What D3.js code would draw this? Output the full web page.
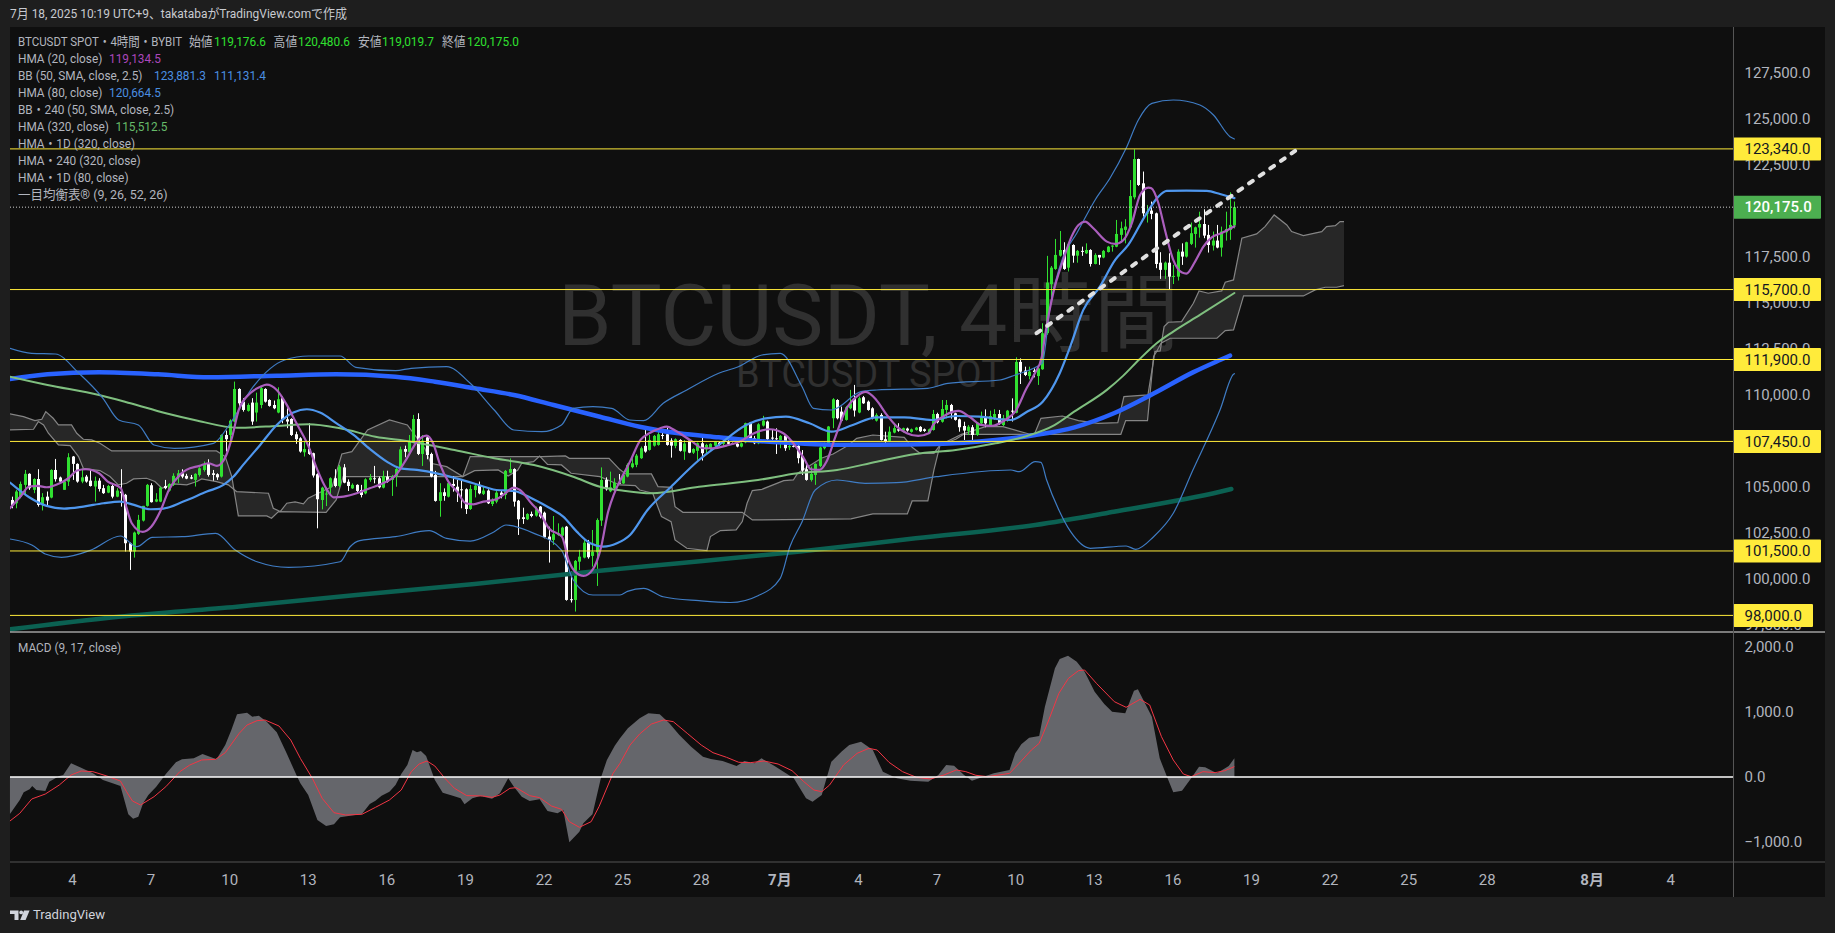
<!DOCTYPE html>
<html lang="ja">
<head>
<meta charset="utf-8">
<title>BTCUSDT SPOT 4時間</title>
<script src="https://cdn.jsdelivr.net/npm/d3@7/dist/d3.min.js"></script>
<style>
  html, body { margin: 0; padding: 0; background: #1e1e1e; overflow: hidden; }
  svg { display: block; }
  text { font-family: Roboto, "Noto Sans CJK JP", sans-serif; }
</style>
</head>
<body>
<svg id="chart" width="1835" height="933"></svg>
<script>
// open, high, low, close of each 4h bar
const candles = [
  [104270,104450,103820,104000],[104090,104820,103820,104730],[104450,105270,104360,105140],[105090,105900,104550,105690],
  [105690,105720,104820,104910],[104820,105450,104640,105410],[105410,105940,103910,104000],[104000,104640,103700,104420],
  [104450,104730,103950,104240],[104400,105940,104360,105900],[105900,106500,105270,105400],[105490,105540,105180,105270],
  [104820,105360,104820,105270],[105270,106810,105030,106590],[106630,106660,105360,106230],[106230,106260,105210,105270],
  [105270,105990,105180,105500],[105540,105630,105210,105270],[105320,105900,105000,105030],[105000,105540,104180,105310],
  [105320,105450,104730,104870],[104910,105090,104600,104640],[104670,105090,104640,105030],[105030,105090,104360,104450],
  [104450,104910,104420,104780],[104730,105940,103910,104640],[104550,104600,101470,101920],[101920,101960,100470,101470],
  [101470,102550,101140,102500],[102430,103460,102370,103190],[103150,103950,103100,103950],[103950,105140,103910,105090],
  [105070,105180,104130,104150],[104180,104640,104150,104310],[104180,105000,104150,104940],[105030,105360,104850,104910],
  [104780,105180,104730,105140],[105090,105720,105030,105580],[105500,105900,105180,105720],[105720,105940,105450,105540],
  [105580,105690,105400,105430],[105500,105630,105400,105430],[105360,105720,105000,105690],[105630,106050,105540,105990],
  [105900,106360,105810,106230],[106260,106480,105540,105630],[105720,105900,105320,105630],[105670,105720,105360,105500],
  [105540,107840,105490,107800],[107800,108040,106900,107570],[107800,108650,107530,108580],[108530,110700,108490,110300],
  [110300,110340,109340,109520],[109610,109800,109070,109160],[109110,109520,109070,109430],[109560,109800,108350,108530],
  [109020,110100,108530,109560],[109430,110430,109250,110340],[110300,110340,109560,109610],[109700,109740,109340,109380],
  [109430,109670,109200,109250],[109020,110390,108980,109740],[109800,109890,108440,108650],[108650,109250,108170,108530],
  [108670,108710,107750,107800],[107840,107980,107320,107570],[107620,107680,106840,106900],[106860,107440,106630,107040],
  [107040,108440,106720,106770],[106810,106840,105490,105600],[105670,105720,102730,104310],[104270,104990,103760,104940],
  [104600,104960,103940,104620],[104960,105500,104540,105450],[105450,105940,104960,105030],[105030,106170,104960,106080],
  [106040,106220,105180,105210],[105260,105390,104760,105030],[104900,105170,104870,105090],[105090,105120,104700,104760],
  [104810,105090,104410,104540],[104630,105450,104580,105390],[105360,105680,105260,105480],[105450,106120,105175,105410],
  [105450,105540,104900,104960],[104940,105860,104900,105570],[105540,105860,105210,105260],[105360,105630,104490,105570],
  [105570,106010,104990,105950],[105950,107170,105900,107020],[107040,107220,106590,106890],[106860,107800,106800,107440],
  [107400,108890,107350,108670],[108670,108980,106710,106770],[106770,107800,106120,107490],[107670,107750,106480,106710],
  [106770,106840,105500,105540],[105630,105850,104180,104220],[104220,105180,103360,104690],[104690,104900,104230,104490],
  [104450,105270,104410,105180],[105140,105570,104720,105030],[104990,105360,104160,104720],[104850,105360,103820,104810],
  [104850,104900,103510,103780],[103780,105090,103730,104870],[104810,105180,104410,105050],[105090,105270,104580,104630],
  [104600,104990,104540,104780],[104780,104850,104050,104090],[104050,104360,103940,104270],[104180,104810,104090,104670],
  [104670,104810,104360,104540],[104540,105900,104310,105850],[105750,106530,105720,105950],[105950,105990,103910,104180],
  [104230,104270,102370,103220],[103330,103850,102970,103240],[103220,103550,103180,103510],[103510,103640,103330,103400],
  [103420,103910,103360,103760],[103910,103940,103270,103360],[103580,103640,102190,102240],[102280,102820,100870,102100],
  [102100,103400,101830,102410],[102370,103000,102320,102460],[102330,102820,102280,102770],[102820,102860,98800,98840],
  [98880,100380,98700,98840],[98840,101010,98210,100960],[100920,101560,100470,101190],[101140,102100,101100,101950],
  [101950,102100,101080,101160],[101230,102640,100650,101460],[101430,103270,99600,103180],[103150,106040,102860,105360],
  [105360,105500,104780,104850],[104740,105810,104690,104960],[104920,105450,104670,105210],[105210,105680,105140,105170],
  [105170,105810,105140,105630],[105540,106260,105500,106180],[106050,106540,105990,106260],[106180,106770,106050,106680],
  [106540,107170,106500,107080],[107210,108110,106840,106900],[106990,107800,106950,107530],[107220,107800,107170,107750],
  [107260,108080,107220,107840],[107800,108080,107570,107750],[107840,108200,107220,107260],[107500,107620,106570,107220],
  [107210,107620,107080,107570],[107530,107570,106900,106940],[106900,107530,106450,107340],[107500,107530,106810,106840],
  [106840,107080,106770,107040],[106940,107390,106450,107350],[107350,107750,106410,106810],[107020,107320,106720,107260],
  [107080,107350,106990,107320],[107220,107460,107190,107420],[107390,107420,107220,107260],[107320,107570,107170,107480],
  [107410,107530,107220,107320],[107350,107390,107260,107300],[107320,107530,107130,107170],[107170,107400,107130,107350],
  [107400,108470,107350,108440],[108470,108510,107570,107620],[107620,107750,107300,107350],[107350,108440,107300,108380],
  [108310,108840,108260,108580],[108530,108580,107500,107570],[107660,108075,107350,107600],[107620,108165,106770,107570],
  [107530,107800,107080,107750],[107770,107800,106940,107080],[107130,107260,106990,107210],[107210,107260,107130,107170],
  [107210,107260,106260,106540],[106660,106980,105630,105870],[105940,106180,105320,105360],[105360,106080,105270,105690],
  [105630,106260,105090,106230],[106120,107170,106050,107120],[107080,107390,107020,107350],[107260,108290,107220,108260],
  [108710,109800,108170,109740],[109700,109740,108650,108710],[109070,109340,108530,108580],[108620,109380,108580,109310],
  [109250,110250,109200,109520],[109800,110520,108800,109130],[109020,109890,108980,109800],[109850,109920,109490,109520],
  [109610,109670,109120,109160],[109250,109310,108650,108710],[108580,108980,108530,108890],[108890,108980,107500,107530],
  [107570,107980,107260,107440],[107480,108260,107440,107980],[107930,108440,107890,108170],[108110,108440,107980,108040],
  [108040,108200,107930,108170],[108150,108200,107980,108040],[107970,108150,107930,108110],[108080,108240,108040,108200],
  [108240,108280,107960,108000],[108110,108150,107970,108020],[107890,108150,107850,108110],[108070,109160,108040,108940],
  [108940,109010,108430,108490],[108520,109700,108470,109210],[109160,109700,108710,109430],[109430,109490,108690,108980],
  [108980,109010,108580,108620],[108650,108690,107980,108220],[108290,108520,107530,108040],[108020,108340,107800,108250],
  [108220,108340,107490,107800],[107800,108490,107750,108470],[108430,109070,108290,108760],[108760,109190,108220,108430],
  [108310,109120,108250,108830],[108710,109200,108620,108940],[108940,109160,108340,108430],[108340,108890,108290,108710],
  [108620,109160,108520,109120],[109120,109790,108530,109070],[109010,112020,108980,111770],[111770,111960,110570,111240],
  [111300,111510,111000,111060],[111000,111510,110820,111240],[111300,111420,110930,111220],[111000,111420,110520,111420],
  [111370,113870,111340,113330],[113330,117530,113240,116080],[115990,116980,115260,116890],[116820,118450,116770,117580],
  [117540,118880,117490,117850],[117850,118270,116770,116820],[116890,118180,116680,118160],[118120,118160,117160,117540],
  [117540,117850,117160,117800],[117800,118030,117530,117760],[117670,118210,117630,117850],[117850,117890,116950,117090],
  [117090,117670,117070,117580],[117580,117580,117040,117440],[117440,117850,117400,117800],[117740,118070,117710,118030],
  [118030,118110,117760,118090],[118030,119480,118000,118720],[118670,119390,118250,119030],[118940,119520,118210,119120],
  [119080,121650,119030,120780],[120710,123320,120600,122790],[122790,122810,121330,121380],[121470,122110,119660,119840],
  [119840,120295,119340,119880],[119990,120480,119520,119810],[119840,119880,116860,117090],[117160,117730,116280,116770],
  [116770,117220,116280,117160],[117160,117670,115730,116400],[116400,117040,116000,116440],[116400,117890,116190,117760],
  [117760,118210,117040,117490],[117490,118300,117440,118270],[118180,119340,118120,118760],[118720,119120,117980,119080],
  [119070,119930,118520,119260],[119260,120060,118490,118630],[118670,119210,117710,118120],[118090,118850,117820,118360],
  [118360,119210,117940,117980],[117980,119120,117490,118850],[118810,119930,118360,118990],[118940,120980,118400,119210],
  [119176.6,120480.6,119019.7,120175]
];

// indicator lines: [bar index, price]
const hma20 = [[-0.4,103820],[2,104455],[4,105000],[6,105034],[8,104960],[11,105180],[13,105450],[15,105867],[17,105940],[20,105722],[22,105270],[25,104907],[26,104093],[27.5,103007],[30,102536],[32,102826],[34,103640],[36,104817],[38.5,105632],[40,105903],[43,106120],[45,106265],[47,106120],[49,106627],[50.5,107713],[52,109161],[54.6,110066],[57,110428],[58.4,110537],[60.7,110247],[63,109433],[65,108528],[68,107170],[70,105903],[72,104904],[73.7,104415],[76,104451],[79,104632],[82,104904],[85,105175],[88,105628],[90.5,106532],[92.8,107437],[95,107763],[96.5,107347],[98,106261],[100,105265],[102,104722],[104,104089],[105.7,104035],[108,104180],[111,104306],[113,104632],[115,104940],[116.4,104813],[119,104089],[121,103546],[123,102732],[126,102279],[127.5,101012],[129,100378],[131,100143],[133,100469],[135,101736],[136.5,103546],[138,104632],[140,105628],[141.6,106355],[144,107532],[146,107894],[148.5,108165],[150,108256],[152.3,107985],[155.3,107532],[158.4,107080],[160.7,107080],[163.7,107224],[166.8,107442],[170,107894],[173.6,108111],[176.7,107894],[179,107351],[181.4,106537],[183,105939],[185,105903],[186.6,106355],[188.5,107622],[191,109161],[193.5,109885],[195.6,110138],[198,109704],[200.4,108890],[202.7,108256],[205,107894],[207.6,107749],[210,107894],[211,108345],[213.3,108797],[215.6,109069],[216.8,109105],[219.5,108761],[222,108345],[224.4,108290],[227.5,108616],[229.8,109069],[232.4,110336],[234.3,111150],[235.9,112055],[236.6,113146],[238.5,115499],[240.8,117309],[242.7,118576],[244.3,119210],[245.8,119390],[247.7,119028],[250.8,118305],[252.7,118178],[254.6,118395],[256.5,119300],[258.4,120838],[260.3,121237],[261,121200],[262.6,120386],[264.1,118938],[266,117309],[268,116621],[269,116567],[271,117218],[272.9,118033],[274.8,118540],[277,118757],[280,119134.5]];
const hma80 = [[-0.4,105215],[4,104419],[8,103948],[12,103803],[16.4,103912],[21,104093],[24.8,104183],[28,104002],[31.7,103767],[34.7,103803],[39.3,104183],[44.7,104726],[48.5,105089],[50.8,105541],[53,106175],[56.9,107260],[60.7,108347],[64.5,109016],[67.6,109197],[70.6,109016],[74.4,108433],[78.3,107800],[82,107040],[85.9,106351],[89,105990],[92.8,105900],[97.3,105718],[101,105500],[105.7,105175],[111,104813],[115,104759],[119.5,104306],[123.3,103817],[126.3,103365],[129.4,102550],[132.5,101917],[135.5,101736],[138.6,101917],[141.6,102370],[145.6,103725],[151,104990],[157.4,106440],[161.9,107255],[168.2,108342],[172.7,108706],[177.3,108793],[182.7,108434],[187.7,107978],[192.6,108342],[198.1,108760],[204.4,108760],[210.8,108614],[216.2,108831],[221.6,108793],[228.8,108614],[232.5,109065],[236.1,109607],[240,111155],[242.4,112603],[245.4,114594],[249.2,115861],[252.7,117309],[255.7,118124],[259.9,119843],[262.6,120748],[264.5,121056],[269,121074],[273.7,121056],[276.7,120893],[280,120664.5]];
const hma320 = [[-0.4,110966],[8.2,110515],[20,109971],[27.2,109520],[35.3,108978],[42.6,108576],[51.6,108195],[60.7,108287],[67.9,108379],[75.2,108162],[83.3,107706],[91.5,107434],[101.4,106984],[110.5,106533],[119.6,106169],[128.6,105533],[134.7,104990],[140.1,104773],[146.5,104631],[157.4,104990],[170.9,105354],[180,105718],[189,105897],[198.1,106348],[207,106767],[216.2,106984],[225.3,107348],[232.5,107745],[238.8,108342],[243.3,109065],[250.8,110250],[254.5,111010],[258.2,111900],[262.2,112784],[266,113418],[272.1,114322],[280,115512.5]];
const hma1d80 = [[-0.4,110840],[8.2,111095],[20,111205],[33.5,111095],[45.3,110933],[60.7,111020],[74.3,111095],[87.9,110966],[96.9,110694],[106,110334],[115,109971],[124.1,109428],[134.7,108793],[143.8,108250],[152.8,107890],[161.9,107674],[170.9,107473],[180,107348],[189,107272],[198.1,107272],[211.7,107310],[225.3,107527],[234.4,107798],[243.4,108217],[252.4,108978],[261.5,110050],[270.5,111200],[276.7,111873],[279,112113]];
const hma1d320 = [[-0.4,97245],[24.5,97930],[51.6,98473],[78.9,99107],[106,99705],[134.7,100427],[152.8,100830],[180,101460],[207,102187],[234.4,102910],[252.4,103632],[276.7,104719],[279.3,104865]];
const bbUpper = [[-0.4,112508],[4.6,112236],[10,112198],[15.4,111150],[20.9,109792],[24.5,108613],[29,108342],[32.6,107255],[37.2,107076],[46.2,107348],[49.8,108342],[55.3,110422],[62.5,111873],[68,112090],[75.2,112090],[78.8,111476],[87.9,111292],[91.5,111422],[99.6,111509],[105,110607],[110.5,109157],[115,108070],[121.4,107978],[125.9,108342],[128.6,109248],[133.1,109336],[137.4,109248],[141.5,108613],[144.7,108576],[149.2,109520],[154.6,110243],[161.9,111150],[166.4,111509],[171.8,112145],[176,112236],[181,110422],[183.6,109248],[187.7,109157],[194.5,110151],[198.1,110243],[209.8,110335],[214.4,110607],[226.3,110786],[229.8,111058],[234.7,111509],[236,111698],[237.8,114775],[240.8,117490],[243.9,118757],[248.1,120567],[251.5,121743],[255.2,123373],[258,124911],[261.1,125816],[266,125997],[272.1,125726],[275.2,125183],[279,124006],[280,123881.3]];
const bbLower = [[-0.4,102150],[4.6,101823],[7.7,101335],[11.4,101155],[18.2,101552],[24.9,102312],[28.6,101731],[32.2,102242],[39,102275],[46.7,102458],[51.2,101551],[56.2,100916],[63.4,100612],[75.2,100916],[77.5,101731],[79.7,102060],[87.9,102275],[95.6,102600],[99.6,102187],[105,102040],[110.5,102546],[113.2,102910],[119.6,102458],[125.9,101551],[128.6,99923],[133.1,99107],[139.3,99107],[141,99305],[144.7,99472],[149.2,99015],[157.4,98798],[164.6,98700],[170.9,99070],[176,100014],[178.2,101731],[181,103090],[184,104810],[189,105354],[195.4,105175],[202.6,105208],[211.7,105533],[228.8,105897],[230.7,105805],[234.4,106348],[235.7,106316],[237,105354],[239.8,103725],[242.5,102546],[247,101645],[255.2,101770],[257.4,101590],[261.5,102275],[266,103546],[270.5,105897],[276.7,109157],[279.8,111100],[280,111131.4]];
const cloudSpanA = [[-0.4,108075],[5,108111],[6.1,108528],[7.3,108346],[8.4,107894],[10.7,107260],[13.4,107224],[15.3,106627],[16.4,105993],[20.2,105867],[22.5,105541],[24.4,105089],[26.3,105179],[27.9,105414],[30.9,105450],[32.8,105270],[34.4,104907],[37,105143],[40.1,105089],[42.4,105270],[43.5,105414],[46.9,105270],[49.6,105089],[51.5,104726],[58.8,104636],[59.9,103822],[61.5,103640],[63,104093],[64.9,104165],[66.8,104057],[67.9,104365],[70.2,104636],[73.4,105000],[75.6,106769],[77.9,106896],[81.5,108072],[86.5,108615],[90.6,108344],[94.6,107076],[96,106262],[99.6,106081],[103.3,105538],[105,106624],[121.4,106624],[126.8,106660],[127.7,106534],[136.8,106534],[139.2,105936],[140.6,105683],[146.5,105683],[148,104995],[151.2,104959],[151.9,103909],[153.7,103601],[167.3,103601],[169.6,103185],[192.2,103239],[197.2,103511],[205.1,103511],[206.2,104217],[209.8,104217],[211.2,105900],[212.6,107258],[216.2,107565],[218,107837],[254,107837],[255.1,108579],[260.1,108579],[261.5,112060],[262.2,112332],[263.2,112784],[265.3,113055],[276,113055],[277.9,113472],[279.8,113508],[282.1,115354],[295.8,115354],[298.5,115680],[300.8,115825],[303.4,115825],[305.1,115915]];
const cloudSpanB = [[-0.4,108944],[2.7,108799],[5.3,108582],[6.9,108654],[7.8,109070],[9.5,108708],[10.7,108346],[13.7,108346],[14.9,107894],[16.4,107568],[18.3,107532],[20.2,107351],[22.9,106935],[46.9,106935],[48.9,106627],[50.4,105541],[51.9,103405],[58.4,103405],[59.5,103279],[61.1,103640],[72,103601],[74.3,104271],[75.9,105538],[103.3,105538],[106,105864],[111.4,105900],[113.7,105574],[115.9,105900],[116.8,106262],[119.5,106353],[120.9,106660],[122.7,106208],[125.9,106172],[128.1,105719],[134.7,105538],[139.2,105086],[142.8,105049],[143.8,104814],[146.8,104633],[148.8,103366],[151,103095],[151.9,102099],[154.6,101647],[159.2,101520],[160,102280],[162.3,102606],[165.9,102642],[167.3,103095],[168.4,104090],[169.6,104778],[171.8,104850],[176.8,105321],[179,105357],[180,105719],[185.4,106534],[188.1,106769],[191.7,107258],[193.5,107620],[197.2,107800],[204.4,107674],[206.2,107131],[208,106805],[211.2,106805],[212.6,107258],[217.5,107837],[223,108253],[227,108253],[233,107855],[234.3,107891],[235.7,108706],[240.6,108832],[244.3,108579],[248.8,108434],[253.3,108470],[254.7,109882],[260.2,109979],[261.8,112332],[263,112368],[263.9,113689],[264.9,113924],[267.9,113960],[270.6,114956],[271.9,115626],[274,115499],[277.1,115626],[277.9,116096],[279.8,116223],[281.7,118486],[285.1,118721],[287,119119],[289.1,119752],[292,119209],[293.1,118848],[295.8,118630],[300,118848],[301.1,119119],[303.1,119173],[304.2,119390],[305.1,119390]];
const trendLine = [[234.7,113327],[293.9,123228]];

// MACD pane: [bar index, value]
const macdLine = [[-0.4,-569],[1.85,-354],[2.75,-236],[4.1,-190],[4.7,-138],[5.65,-200],[7.7,-215],[8.6,-72],[10.9,15],[11.8,31],[13.6,210],[15.9,144],[18.6,56],[20.9,-46],[23.1,-97],[24.9,-138],[26.7,-574],[27.8,-641],[29,-610],[30.1,-405],[31.3,-277],[33.1,-149],[35.3,46],[37.6,226],[39,272],[41.7,287],[43.7,354],[46.9,272],[48.9,492],[50.3,723],[51.6,964],[53.9,990],[55.1,928],[56.6,944],[58.4,851],[60.7,687],[62.96,364],[65.2,31],[66.1,-97],[67.9,-277],[70,-662],[72,-754],[73.8,-728],[75.2,-620],[78.3,-590],[80.2,-569],[82,-415],[83.3,-364],[84.7,-287],[86.5,-226],[87.9,-123],[89.2,46],[90.6,185],[91.8,415],[92.8,379],[93.7,400],[94.9,323],[96.9,-46],[98.7,-241],[101,-287],[102.8,-328],[103.7,-420],[105.5,-328],[107.3,-292],[110,-333],[111.8,-251],[113.7,-20],[115,-149],[116.8,-303],[118.6,-369],[120.9,-344],[122.7,-523],[125,-559],[126.3,-508],[127.7,-1005],[130,-841],[130.9,-713],[133,-574],[135,5],[136.3,262],[138.1,482],[139.3,595],[141.1,749],[143.8,903],[145.8,979],[148.4,964],[150.6,826],[152.9,646],[155.6,467],[158.3,313],[160.1,277],[162.8,246],[166,169],[167.8,246],[170.1,210],[171.7,287],[174.6,174],[179.1,-20],[181.9,-328],[183.4,-379],[185.5,-277],[187.7,236],[190,390],[191.8,492],[194.5,544],[197.2,415],[199.5,82],[202.7,-20],[205.8,-56],[209.9,-72],[212.2,31],[214,185],[215.8,174],[218.1,31],[219.9,-56],[223,15],[224.9,56],[228.5,108],[229.8,364],[231.2,503],[233,605],[235.3,631],[236.6,1082],[238.9,1672],[240,1815],[241.9,1867],[243.9,1774],[245.7,1620],[248,1313],[250.2,1123],[252,1005],[255,979],[257,1328],[257.9,1349],[261.1,928],[262.9,287],[264.7,-20],[266,-236],[268,-210],[270.1,-20],[271.9,159],[273.3,149],[276,56],[278.7,169],[280,287]];
const macdSignal = [[-0.4,-677],[1.85,-559],[4.6,-338],[7.7,-262],[10.9,-123],[13.6,31],[15.9,92],[18.6,82],[21.8,15],[24.9,-62],[26.3,-226],[27.65,-369],[29.5,-431],[32.6,-303],[35.3,-149],[38.5,82],[40.8,185],[43.5,262],[46.7,272],[48.9,374],[52.1,672],[53.9,800],[56.2,867],[58,877],[61.2,785],[63.9,569],[66.1,287],[68.85,-20],[71.1,-328],[73.8,-549],[76.5,-585],[80.2,-574],[83.3,-467],[86.5,-354],[89.2,-200],[91.5,82],[93.3,200],[95.1,246],[96.9,169],[99.2,-20],[101.4,-174],[104.2,-287],[107.8,-292],[110,-313],[111.8,-277],[114.1,-174],[115.5,-164],[118.6,-287],[120.9,-318],[123.6,-446],[125.9,-497],[127.7,-687],[130,-774],[132.7,-687],[134.5,-456],[137.7,56],[139.3,210],[141.6,492],[143.8,662],[146.5,815],[149.3,877],[151.5,851],[154.7,672],[157.9,492],[160.6,374],[163.7,303],[166.5,226],[169.2,221],[172.3,246],[175.5,200],[178.7,97],[181.4,-72],[183.7,-200],[185.5,-226],[187.3,-123],[190.5,185],[193.6,364],[196.3,441],[198.2,415],[200.9,226],[204,82],[207.2,-5],[210.4,-31],[213.5,31],[216.3,108],[218.5,82],[220.8,26],[223.5,5],[228.5,56],[230.7,210],[233.5,415],[235.3,518],[237.5,877],[239.8,1287],[242,1518],[244.3,1636],[245.7,1646],[248.4,1441],[252.5,1159],[255.2,1072],[258.4,1195],[260.6,1108],[263.3,620],[266,262],[268.3,46],[270.1,5],[272.8,82],[275.6,67],[277.8,97],[280,159]];

// axis ticks and horizontal levels
const priceTicks = [127500,125000,122500,120000,117500,115000,112500,110000,107500,105000,102500,100000,97500];
const macdTicks = [2000,1000,0,-1000];
const levels = [123340,115700,111900,107450,101500,98000];
const lastClose = 120175;
const dateBars = [13.8,31.8,49.8,67.8,85.8,103.8,121.8,139.8,157.8,175.8,193.8,211.8,229.8,247.8,265.8,283.8,301.8,319.8,337.8,361.8,379.8];
const dateLabels = ['4','7','10','13','16','19','22','25','28','7月','4','7','10','13','16','19','22','25','28','8月','4'];

const legendRows = [
  { y: 59, label: 'HMA (20, close)', values: [[109, '119,134.5', '#ab47bc']] },
  { y: 76, label: 'BB (50, SMA, close, 2.5)', values: [[154, '123,881.3', '#4a8ee0'], [214, '111,131.4', '#4a8ee0']] },
  { y: 93, label: 'HMA (80, close)', values: [[109, '120,664.5', '#4a8ee0']] },
  { y: 110, label: 'BB・240 (50, SMA, close, 2.5)', values: [] },
  { y: 127, label: 'HMA (320, close)', values: [[115.5, '115,512.5', '#66bb6a']] },
  { y: 144, label: 'HMA・1D (320, close)', values: [] },
  { y: 161, label: 'HMA・240 (320, close)', values: [] },
  { y: 178, label: 'HMA・1D (80, close)', values: [] },
  { y: 195, label: '一目均衡表® (9, 26, 52, 26)', values: [] }
];
const ohlcLabels = [[189, '始値', 214, '119,176.6'], [273.6, '高値', 298, '120,480.6'], [358, '安値', 382, '119,019.7'], [442, '終値', 467, '120,175.0']];

const paneLeft = 10, axisLeft = 1733.5, frameRight = 1825;
const paneTop = 27, paneBottom = 632, macdBottom = 862, frameBottom = 897;
const textColor = '#b2b5be', upColor = '#30e030', downColor = '#ffffff', levelColor = '#ffeb3b';
const narrow = 0.91;

const barX = d3.scaleLinear().domain([0, 280]).range([11.7, 1234.4]);
const priceY = d3.scaleLinear().domain([123340, 98000]).range([148.9, 615.4]);
const macdY = d3.scaleLinear().domain([2000, -1000]).range([647, 842]);

const svg = d3.select('#chart');
const defs = svg.append('defs');
defs.append('clipPath').attr('id', 'price-clip').append('rect')
  .attr('x', paneLeft).attr('y', paneTop).attr('width', axisLeft - paneLeft).attr('height', paneBottom - paneTop);

// the reference font is narrower than anything installed, so squeeze it sideways
function narrowText(parent, x, y, str, color, squeeze = narrow) {
  const node = parent.append('text')
    .attr('transform', `translate(${x},${y}) scale(${squeeze},1)`)
    .attr('dy', '0.3em')
    .text(str);
  if (color) node.attr('fill', color);
  return node;
}

svg.append('rect').attr('width', 1835).attr('height', 933).attr('fill', '#1e1e1e');
svg.append('rect').attr('x', paneLeft).attr('y', paneTop)
  .attr('width', frameRight - paneLeft).attr('height', frameBottom - paneTop).attr('fill', '#0f0f0f');

const title = svg.append('g').attr('font-size', 12.6);
narrowText(title, 10, 14.5, '7月 18, 2025 10:19 UTC+9、takatabaがTradingView.comで作成', '#c8cad0', 0.95);

const pricePane = svg.append('g').attr('clip-path', 'url(#price-clip)');

// watermark
pricePane.append('text').attr('x', 558).attr('y', 345)
  .attr('fill', '#303030').attr('font-size', 86).text('BTCUSDT, 4時間');
pricePane.append('text').attr('x', 736).attr('y', 387)
  .attr('fill', '#303030').attr('font-size', 38).text('BTCUSDT SPOT');

// ichimoku cloud, the two spans close into one even-odd polygon
const straight = d3.line().x((d) => barX(d[0])).y((d) => priceY(d[1]));
pricePane.append('path')
  .attr('d', straight(cloudSpanA.concat(cloudSpanB.slice().reverse())) + 'Z')
  .attr('fill', '#272727').attr('fill-rule', 'evenodd');
[cloudSpanA, cloudSpanB].forEach((span) => {
  pricePane.append('path').attr('d', straight(span))
    .attr('fill', 'none').attr('stroke', '#858585').attr('stroke-width', 1.2);
});

// candles
const candle = pricePane.append('g').selectAll('g').data(candles).enter().append('g')
  .attr('fill', (d) => (d[3] >= d[0] ? upColor : downColor));
candle.append('rect')
  .attr('x', (d, i) => Math.round(barX(i)))
  .attr('y', (d) => priceY(d[1]))
  .attr('width', 1)
  .attr('height', (d) => priceY(d[2]) - priceY(d[1]));
candle.append('rect')
  .attr('x', (d, i) => Math.round(barX(i)) - 1)
  .attr('y', (d) => priceY(Math.max(d[0], d[3])))
  .attr('width', 3)
  .attr('height', (d) => Math.max(1, Math.abs(priceY(d[0]) - priceY(d[3]))));

// indicator lines
const smooth = d3.line().x((d) => barX(d[0])).y((d) => priceY(d[1])).curve(d3.curveMonotoneX);
function drawLine(points, color, width) {
  pricePane.append('path').attr('d', smooth(points))
    .attr('fill', 'none').attr('stroke', color).attr('stroke-width', width).attr('stroke-linecap', 'round');
}
drawLine(hma1d320, '#0b6152', 4.5);
drawLine(hma1d80, '#2962ff', 4.5);
drawLine(hma320, '#7fbf7f', 2);
drawLine(bbUpper, '#3f7cc4', 1.2);
drawLine(bbLower, '#3f7cc4', 1.2);
drawLine(hma80, '#4f97ee', 2.2);
drawLine(hma20, '#ab5ebd', 2.2);

// price line of the last close
pricePane.append('line').attr('x1', paneLeft).attr('x2', axisLeft)
  .attr('y1', priceY(lastClose)).attr('y2', priceY(lastClose))
  .attr('stroke', '#cfcfcf').attr('stroke-width', 1).attr('stroke-dasharray', '1 2');

// support and resistance levels
pricePane.append('g').selectAll('line').data(levels).enter().append('line')
  .attr('x1', paneLeft).attr('x2', axisLeft)
  .attr('y1', (d) => priceY(d)).attr('y2', (d) => priceY(d))
  .attr('stroke', levelColor).attr('stroke-width', 1);

// dashed trend line
pricePane.append('path').attr('d', straight(trendLine))
  .attr('fill', 'none').attr('stroke', '#e0e0e0').attr('stroke-width', 4)
  .attr('stroke-dasharray', '4.5 8.5').attr('stroke-linecap', 'round');

// legend
const legend = svg.append('g').attr('font-size', 13).attr('fill', textColor);
legend.append('text').attr('x', 18).attr('y', 42).attr('dy', '0.3em')
  .attr('textLength', 164).attr('lengthAdjust', 'spacingAndGlyphs')
  .text('BTCUSDT SPOT・4時間・BYBIT');
ohlcLabels.forEach((d) => {
  narrowText(legend, d[0], 42, d[1]);
  narrowText(legend, d[2], 42, d[3], '#2fe02f');
});
legendRows.forEach((row) => {
  narrowText(legend, 18, row.y, row.label, null, row.label.startsWith('一目') ? 0.96 : narrow);
  row.values.forEach((v) => narrowText(legend, v[0], row.y, v[1], v[2]));
});

// price axis
const axisFont = 15;
const priceAxis = svg.append('g').attr('transform', `translate(${axisLeft},0)`)
  .call(d3.axisRight(priceY).tickValues(priceTicks).tickFormat(d3.format(',.1f')).tickSize(0).tickPadding(11));
priceAxis.select('.domain').remove();
priceAxis.selectAll('text').attr('fill', textColor).attr('font-size', axisFont)
  .style('font-family', 'Roboto, sans-serif');

levels.forEach((level) => {
  const boxWidth = level < 100000 ? 79.5 : 87.5;
  const label = svg.append('g').attr('transform', `translate(${axisLeft},${priceY(level)})`);
  label.append('rect').attr('y', -11.5).attr('width', boxWidth).attr('height', 23).attr('rx', 1).attr('fill', levelColor);
  label.append('text').attr('x', 11).attr('dy', '0.35em').attr('fill', '#131722').attr('font-size', axisFont)
    .text(d3.format(',.1f')(level));
});
const closeLabel = svg.append('g').attr('transform', `translate(${axisLeft},${priceY(lastClose)})`);
closeLabel.append('rect').attr('y', -11.5).attr('width', 87.5).attr('height', 23).attr('rx', 1).attr('fill', '#4caf50');
closeLabel.append('text').attr('x', 11).attr('dy', '0.35em').attr('fill', '#ffffff').attr('font-size', axisFont)
  .attr('font-weight', 500).text(d3.format(',.1f')(lastClose));

// MACD pane
const macdArea = d3.area().x((d) => barX(d[0])).y0(macdY(0)).y1((d) => macdY(d[1]));
svg.append('path').attr('d', macdArea(macdLine)).attr('fill', '#65666b');
const macdPath = d3.line().x((d) => barX(d[0])).y((d) => macdY(d[1]));
svg.append('path').attr('d', macdPath(macdSignal))
  .attr('fill', 'none').attr('stroke', '#f23645').attr('stroke-width', 1);
svg.append('line').attr('x1', paneLeft).attr('x2', axisLeft).attr('y1', macdY(0)).attr('y2', macdY(0))
  .attr('stroke', '#ffffff').attr('stroke-width', 1.5);
const macdLegend = svg.append('g').attr('font-size', 13).attr('fill', textColor);
narrowText(macdLegend, 18, 648, 'MACD (9, 17, close)');

const macdAxis = svg.append('g').attr('transform', `translate(${axisLeft},0)`)
  .call(d3.axisRight(macdY).tickValues(macdTicks).tickFormat(d3.format(',.1f')).tickSize(0).tickPadding(11));
macdAxis.select('.domain').remove();
macdAxis.selectAll('text').attr('fill', textColor).attr('font-size', axisFont)
  .style('font-family', 'Roboto, sans-serif');

// time axis
const timeAxis = svg.append('g').attr('transform', `translate(0,${macdBottom})`)
  .call(d3.axisBottom(barX).tickValues(dateBars).tickFormat((d, i) => dateLabels[i]).tickSize(0).tickPadding(12));
timeAxis.select('.domain').remove();
timeAxis.selectAll('text').attr('fill', textColor).attr('font-size', axisFont)
  .attr('font-weight', (d, i) => (dateLabels[i].endsWith('月') ? 700 : 400))
  .style('font-family', 'Roboto, "Noto Sans CJK JP", sans-serif');

// frame lines
svg.append('line').attr('x1', paneLeft).attr('x2', frameRight).attr('y1', paneBottom).attr('y2', paneBottom)
  .attr('stroke', '#e8e8e8').attr('stroke-width', 1);
svg.append('line').attr('x1', paneLeft).attr('x2', frameRight).attr('y1', macdBottom).attr('y2', macdBottom)
  .attr('stroke', '#555555').attr('stroke-width', 1);
svg.append('line').attr('x1', axisLeft).attr('x2', axisLeft).attr('y1', paneTop).attr('y2', frameBottom)
  .attr('stroke', '#555555').attr('stroke-width', 1);

// TradingView mark
const logo = svg.append('g').attr('fill', '#d1d4dc');
logo.append('path').attr('d', 'M10 910.5h8.5v9.5h-4v-6h-4.5z');
logo.append('circle').attr('cx', 21.2).attr('cy', 912.4).attr('r', 1.9);
logo.append('path').attr('d', 'M24 910.5h5.6l-4 9.5h-5.4z');
const logoText = svg.append('g').attr('font-size', 13.5).attr('fill', '#d1d4dc');
narrowText(logoText, 33, 915, 'TradingView', null, 0.97);
</script>
</body>
</html>
